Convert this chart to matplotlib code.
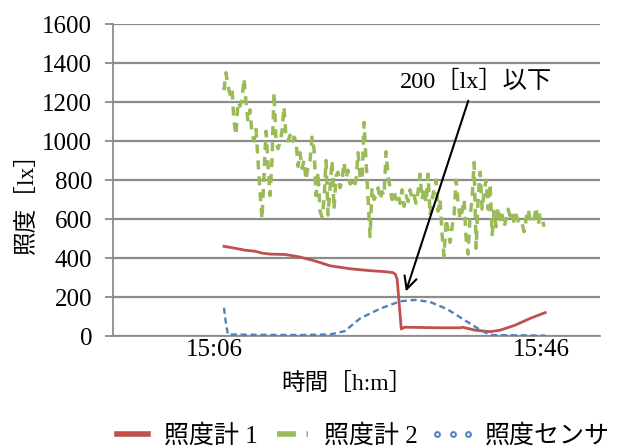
import numpy as np
import matplotlib
matplotlib.use("Agg")
import matplotlib.pyplot as plt
from matplotlib.lines import Line2D

plt.rcParams['font.family'] = ['Liberation Serif', 'Noto Sans CJK JP']

# time axis: minutes after 15:00
tick_pos = [6, 46]
tick_labels = ["15:06", "15:46"]

# 照度計1 (red)
t1 = [7.22, 8.57, 9.79, 11.0, 11.87, 12.85, 14.7, 16.5, 18.35, 20.2, 22.6, 25.1,
      26.9, 27.9, 28.2, 28.4, 28.9, 29.3, 33.6, 36.1, 36.4, 37.9, 39.8, 41.0,
      42.8, 44.65, 46.5]
v1 = [460, 450, 440, 435, 425, 420, 418, 405, 385, 360, 345, 335,
      330, 325, 315, 290, 36, 45, 42, 42, 45, 30, 22, 30,
      55, 90, 120]

# 照度計2 (green), sampled evenly from 15:07.2 to 15:46.4
v2 = [1260, 1350, 1280, 1240, 1270, 1100, 1030, 1200, 1180, 1210, 1320, 1200,
      1100, 1160, 1040, 1000, 1060, 900, 740, 600, 820, 1050, 880, 720,
      900, 1250, 1000, 960, 990, 1050, 1175, 1020, 1000, 1030, 990, 1020,
      1000, 870, 940, 860, 900, 800, 870, 900, 1020, 960, 720, 840,
      640, 610, 700, 900, 620, 760, 900, 650, 820, 840, 760, 800,
      890, 810, 850, 780, 790, 760, 800, 940, 820, 800, 1095, 900,
      700, 510, 760, 700, 720, 760, 700, 740, 720, 945, 820, 760,
      700, 740, 700, 730, 680, 750, 665, 720, 690, 750, 700, 720,
      680, 740, 830, 700, 760, 685, 830, 620, 700, 750, 800, 640,
      700, 520, 410, 600, 540, 480, 560, 620, 800, 685, 600, 640,
      700, 500, 420, 620, 700, 890, 450, 700, 840, 650, 740, 800,
      650, 780, 520, 640, 560, 660, 580, 620, 560, 600, 650, 615,
      640, 580, 620, 590, 600, 575, 535, 600, 650, 600, 620, 600,
      660, 570, 620, 600, 560]
t2 = np.linspace(7.22, 46.37, len(v2))

# 照度センサ (blue)
t3 = [7.22, 7.47, 7.71, 11.6, 16.5, 20.2, 22.0, 23.86, 26.3, 28.75, 30.6, 32.4,
      34.5, 37.0, 38.6, 39.8, 46.5]
v3 = [145, 60, 8, 6, 5, 8, 25, 90, 140, 178, 185, 175,
      138, 72, 30, 5, 2]

red = '#C0504D'
green = '#9BBB59'
blue = '#4F81BD'
grid_c = '#8C8C8C'
FS = 18

fig = plt.figure(figsize=(6.22, 4.48), dpi=100)
ax = fig.add_axes([0.1817, 0.2500, 0.7829, 0.6964])

ax.plot(t1, v1, color=red, lw=2.0, zorder=3)
ax.plot(t2, v2, color=green, lw=2.5, linestyle=(0, (2.6, 2.0)), zorder=2)
ax.plot(t3, v3, color=blue, lw=1.7, linestyle=(0, (2.6, 1.6)), zorder=3)

ax.set_xlim(-6.35, 53.2)
ax.set_ylim(0, 1600)
ax.set_yticks(range(0, 1601, 200))
ax.set_xticks(tick_pos)
ax.set_xticklabels(tick_labels)
ax.tick_params(axis='x', length=0, labelsize=FS, pad=2)
ax.tick_params(axis='y', length=6, color=grid_c, width=1.3, labelsize=FS, pad=9)
ax.yaxis.grid(True, color=grid_c, lw=1.6)
ax.set_axisbelow(True)
for s in ['top', 'right']:
    ax.spines[s].set_visible(False)
ax.spines['left'].set_color(grid_c)
ax.spines['left'].set_linewidth(1.3)
ax.spines['bottom'].set_color(grid_c)
ax.spines['bottom'].set_linewidth(1.3)

fig.text(0.043, 0.56, "照度［lx］", rotation=90, ha='center', va='center', fontsize=17)
fig.text(0.558, 0.143, "時間［h:m］", ha='center', va='center', fontsize=17)

ax.annotate("", xy=(29.36, 215), xytext=(37.2, 1220),
            arrowprops=dict(arrowstyle='->,head_length=0.9,head_width=0.45', color='black', lw=1.5),
            zorder=5)
ax.text(38.0, 1304, "200［lx］以下", ha='center', va='center', fontsize=17.5,
        bbox=dict(facecolor='white', edgecolor='none', pad=1), zorder=6)

handles = [
    Line2D([], [], color=red, lw=4),
    Line2D([], [], color=green, lw=4, linestyle=(0, (3.4, 1.9))),
    Line2D([], [], color=blue, lw=0, marker='o', markersize=3.5, markerfacecolor='white',
           markeredgecolor=blue, markeredgewidth=1.4),
]
labels = ["照度計 1", "照度計 2", "照度センサ"]
leg = fig.legend(handles, labels, loc='center left', bbox_to_anchor=(0.176, 0.026),
                 ncol=3, frameon=False, fontsize=FS, handlelength=1.85, handletextpad=0.35,
                 columnspacing=0.45, numpoints=3, borderaxespad=0, borderpad=0)

fig.savefig("out.png", dpi=100)
